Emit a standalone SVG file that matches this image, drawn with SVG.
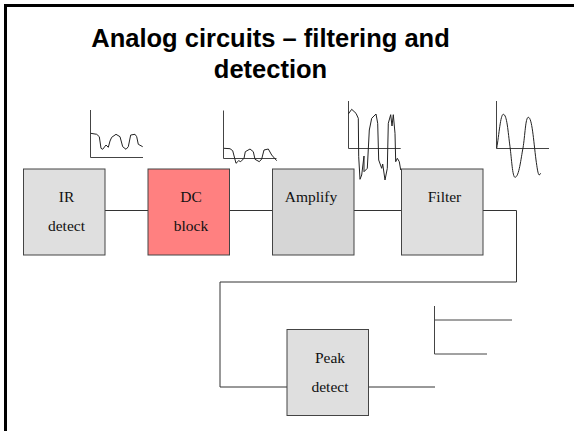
<svg xmlns="http://www.w3.org/2000/svg" width="574" height="431" viewBox="0 0 574 431">
<style>
.box{stroke:#444;stroke-width:1}
.gray{fill:#dfdfdf}
.amp{fill:#d6d6d6}
.red{fill:#ff8080}
.lbl{font-family:"Liberation Serif",serif;font-size:15.500px;fill:#111;text-anchor:middle}
.ttl{font-family:"Liberation Sans",sans-serif;font-size:25.500px;font-weight:bold;fill:#000;text-anchor:middle}
.w{fill:none;stroke:#333;stroke-width:1}
.sig{fill:none;stroke:#222;stroke-width:1;stroke-linejoin:round}
.ax{fill:none;stroke:#444;stroke-width:1}
</style>
<rect width="574" height="431" fill="#fff"/>
<path d="M5.500 431V5.500H574" fill="none" stroke="#000" stroke-width="3"/>
<g id="title">
<text class="ttl" x="270.500" y="47">Analog circuits – filtering and</text>
<text class="ttl" x="270.500" y="78">detection</text>
</g>
<g id="connectors">
<path class="w" d="M105 210.500H148M229.500 210.500H272.500M354 210.500H401.500M483 210.500H516.500V282H220V387H287M368 387H435"/>
</g>
<g id="plot-ir">
<path class="ax" d="M90.500 110V157.500H143"/>
<polyline class="sig" points="90.700,133.300 96.700,134.300 99.300,136.700 101,148.300 102.700,149.300 106,145 108.300,147.300 110,141 111.700,137.300 116,134.300 120,136.700 122.700,146.700 126,149.300 128.300,146.700 130.700,135 135,134.300 136.700,136.700 138.300,144.300 142.700,146.700"/>
</g>
<g id="plot-dc">
<path class="ax" d="M223.500 110.500V158.500H276.500"/>
<polyline class="sig" points="224,148.300 230,148.700 232.700,150.700 234.700,158.300 236,163.300 238.700,160.700 240.700,161.700 244,158.300 245.300,151.700 250,149 253.300,151.700 255,159.300 259.300,161.700 261.700,159 264,150 268.300,149 271.700,155 276.700,160.700"/>
</g>
<g id="plot-amp">
<path class="ax" d="M348.500 101V148.500H400.700"/>
<polyline class="sig" points="348.300,114 351.700,109.300 356,113.300 358.300,118.300 358.700,156.700 360,179.300 361.700,175 364,156 364,171.700 367.300,168.300 369.300,130 371.700,118.300 376,114 377.700,123.300 378.700,160 381.700,168.300 382.700,164 385,180 387.300,168.300 388.300,123.300 390.700,114.700 392,126 393.300,114.700 395,133.300 395.700,161.700 397.300,158.300 399.300,161.700 400.700,170"/>
</g>
<g id="plot-filter">
<path class="ax" d="M496.500 101V148.500H549"/>
<path class="sig" d="M496.700 148.300C499 135 500.500 114.300 503.300 114.300C507 114.300 508 132 510 146.700C511.500 158 512.500 177.300 515 177.300C519 177.300 521 158 523 148C525 136 525.500 117.300 528.300 117.300C532 117.300 533.500 140 536 160C537 167 538 175 539.300 175L540.700 173.300"/>
</g>
<g id="plot-out">
<path class="ax" d="M434.500 306V354H487M434.500 320H512"/>
</g>
<g id="ir-detect">
<rect class="box gray" x="23.500" y="169" width="81.500" height="86"/>
<text class="lbl" x="66.500" y="202">IR</text>
<text class="lbl" x="66.500" y="231">detect</text>
</g>
<g id="dc-block">
<rect class="box red" x="148" y="169" width="81.500" height="86"/>
<text class="lbl" x="191" y="202">DC</text>
<text class="lbl" x="191" y="231">block</text>
</g>
<g id="amplify">
<rect class="box amp" x="272.500" y="169" width="81.500" height="86"/>
<text class="lbl" x="311" y="202">Amplify</text>
</g>
<g id="filter">
<rect class="box gray" x="401.500" y="169" width="81.500" height="86"/>
<text class="lbl" x="444.500" y="202">Filter</text>
</g>
<g id="peak-detect">
<rect class="box gray" x="287" y="329.500" width="81.500" height="86"/>
<text class="lbl" x="330" y="363">Peak</text>
<text class="lbl" x="330" y="392">detect</text>
</g>
</svg>
